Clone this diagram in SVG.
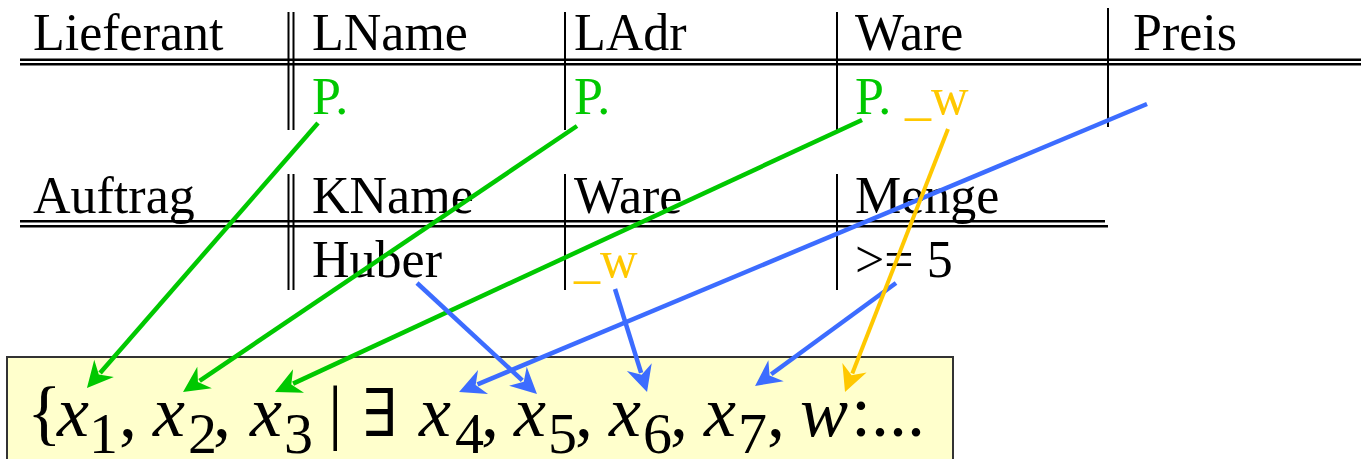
<svg xmlns="http://www.w3.org/2000/svg" width="1361" height="459" viewBox="0 0 1361 459">
<style>
.t{font-family:"Liberation Serif","Times New Roman",serif;font-size:52px;fill:#000}
.g{fill:#00C800}
.o{fill:#FFC800}
.rule{stroke:#000;stroke-width:2.6;fill:none}
.vr{stroke:#000;stroke-width:2;fill:none}
.f{font-family:"Liberation Serif","Times New Roman",serif;font-size:72px;fill:#000}
.i{font-style:italic}
.s{font-size:58px}
.cg{stroke:#00C800;stroke-width:4.5;fill:none}
.cb{stroke:#3C6CFF;stroke-width:4.5;fill:none}
.co{stroke:#FFC800;stroke-width:4;fill:none}
</style>
<defs>
<marker id="ag" markerUnits="userSpaceOnUse" orient="auto" refX="0" refY="0" markerWidth="40" markerHeight="40" overflow="visible"><path d="M2,0 L-6,-13 L20,0 L-6,13 Z" fill="#00C800"/></marker>
<marker id="ab" markerUnits="userSpaceOnUse" orient="auto" refX="0" refY="0" markerWidth="40" markerHeight="40" overflow="visible"><path d="M2,0 L-6,-13 L20,0 L-6,13 Z" fill="#3C6CFF"/></marker>
<marker id="ao" markerUnits="userSpaceOnUse" orient="auto" refX="0" refY="0" markerWidth="40" markerHeight="40" overflow="visible"><path d="M2,0 L-6,-13 L20,0 L-6,13 Z" fill="#FFC800"/></marker>
</defs>
<rect width="1361" height="459" fill="#fff"/>
<g id="lieferant">
<path class="rule" d="M20,59.7 H1361 M20,64.2 H1361"/>
<path class="vr" d="M288.5,12 V130 M293.5,12 V130 M565,12 V130 M837,12 V130 M1108,8 V127"/>
<text class="t" x="33" y="50">Lieferant</text>
<text class="t" x="312" y="50">LName</text>
<text class="t" x="574" y="50">LAdr</text>
<text class="t" x="855" y="50">Ware</text>
<text class="t" x="1133" y="50">Preis</text>
<text class="t g" x="312" y="114">P.</text>
<text class="t g" x="574" y="114">P.</text>
<text class="t g" x="855" y="114">P.</text>
<text class="t o" x="905" y="114">_w</text>
</g>
<g id="auftrag">
<path class="rule" d="M20,221.3 H1105 M20,226.3 H1108"/>
<path class="vr" d="M288.5,174 V290 M293.5,174 V290 M565,174 V290 M837,174 V290"/>
<text class="t" x="33" y="213">Auftrag</text>
<text class="t" x="312" y="213">KName</text>
<text class="t" x="574" y="213">Ware</text>
<text class="t" x="855" y="213">Menge</text>
<text class="t" x="312" y="277">Huber</text>
<text class="t o" x="574" y="277">_w</text>
<text class="t" x="855" y="277">&gt;= 5</text>
</g>
<g id="formula">
<rect x="7" y="357" width="946" height="112" fill="#FFFFCC" stroke="#333" stroke-width="2"/>
<text class="f" y="436"><tspan x="27">{</tspan><tspan class="i" x="57">x</tspan><tspan class="s" x="89" y="453">1</tspan><tspan x="119" y="436">,</tspan><tspan class="i" x="153">x</tspan><tspan class="s" x="188" y="453">2</tspan><tspan x="213" y="436">,</tspan><tspan class="i" x="250">x</tspan><tspan class="s" x="284" y="453">3</tspan><tspan x="328" y="436">|</tspan><tspan x="362" font-family="'DejaVu Serif',serif" font-size="66">∃</tspan><tspan class="i" x="419">x</tspan><tspan class="s" x="455" y="453">4</tspan><tspan x="481" y="436">,</tspan><tspan class="i" x="514">x</tspan><tspan class="s" x="548" y="453">5</tspan><tspan x="575" y="436">,</tspan><tspan class="i" x="609">x</tspan><tspan class="s" x="643" y="453">6</tspan><tspan x="670" y="436">,</tspan><tspan class="i" x="704">x</tspan><tspan class="s" x="738" y="453">7</tspan><tspan x="767" y="436">,</tspan><tspan class="i" x="800">w</tspan><tspan x="851">:...</tspan></text>
</g>
<g id="connectors">
<line class="cg" x1="318" y1="123" x2="100.1" y2="372.9" marker-end="url(#ag)"/>
<line class="cg" x1="577" y1="126" x2="199.6" y2="380.8" marker-end="url(#ag)"/>
<line class="cg" x1="862" y1="120" x2="293.1" y2="383.6" marker-end="url(#ag)"/>
<line class="cb" x1="1147" y1="104" x2="477.5" y2="384.3" marker-end="url(#ab)"/>
<line class="cb" x1="417" y1="283" x2="522.3" y2="380.4" marker-end="url(#ab)"/>
<line class="cb" x1="615" y1="289" x2="641.1" y2="372.9" marker-end="url(#ab)"/>
<line class="cb" x1="896" y1="283" x2="771.2" y2="374.2" marker-end="url(#ab)"/>
<line class="co" x1="948" y1="129" x2="852.3" y2="373.4" marker-end="url(#ao)"/>
</g>
</svg>
